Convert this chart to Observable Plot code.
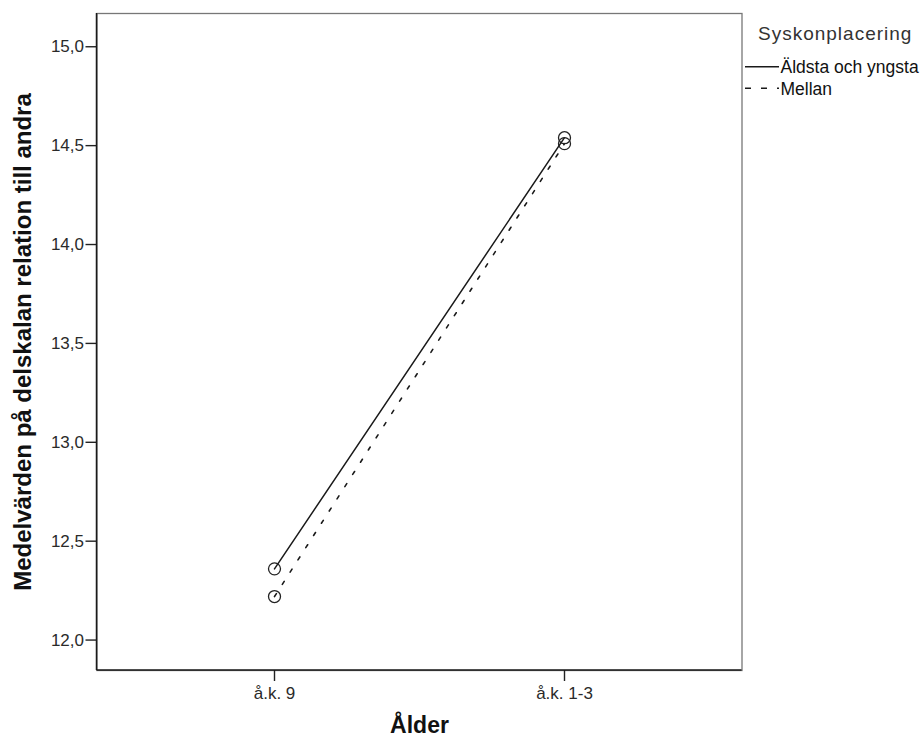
<!DOCTYPE html>
<html><head><meta charset="utf-8">
<script src="https://cdn.jsdelivr.net/npm/d3@7"></script>
<script src="https://cdn.jsdelivr.net/npm/@observablehq/plot@0.6"></script>
<style>body{margin:0;background:#fff} #chart{width:923px;height:739px}</style>
</head><body><div id="chart"></div>
<script>
const categories = ["å.k. 9", "å.k. 1-3"];
const seriesNames = ["Äldsta och yngsta", "Mellan"];
const aldstaValues = [12.35, 14.53];
const mellanValues = [12.21, 14.50];
const yTicks = [12.0, 12.5, 13.0, 13.5, 14.0, 14.5, 15.0];
const yLabel = "Medelvärden på delskalan relation till andra";
const xLabel = "Ålder";
const legendTitle = "Syskonplacering";

const aldstaRows = categories.map((c, i) => ({alder: c, serie: seriesNames[0], value: aldstaValues[i]}));
const mellanRows = categories.map((c, i) => ({alder: c, serie: seriesNames[1], value: mellanValues[i]}));
const allRows = aldstaRows.concat(mellanRows);

const fmt = d => d.toFixed(1).replace(".", ",");
const font = "'Liberation Sans', Arial, Helvetica, sans-serif";

const plot = Plot.plot({
  width: 923, height: 739,
  marginLeft: 96.5, marginRight: 181.5, marginTop: 13, marginBottom: 69,
  style: {fontFamily: font, fontSize: "17px", color: "#2a2a2a", background: "#fff", overflow: "visible"},
  x: {type: "point", domain: categories, padding: 0.61},
  y: {domain: [11.836, 15.158]},
  marks: [
    Plot.frame({stroke: "#777", strokeWidth: 1.3}),
    Plot.axisY({ticks: yTicks, tickFormat: fmt, tickSize: 11, tickPadding: 2, label: null, fontSize: 17, dy: 2, stroke: "#222", strokeWidth: 1.4}),
    Plot.axisX({tickSize: 11, tickPadding: 5, label: null, fontSize: 17, stroke: "#222", strokeWidth: 1.4}),
    Plot.line(aldstaRows, {x: "alder", y: "value", stroke: "#1a1a1a", strokeWidth: 1.5}),
    Plot.line(mellanRows, {x: "alder", y: "value", stroke: "#1a1a1a", strokeWidth: 1.6, strokeDasharray: "3.5,11"}),
    Plot.dot(allRows, {x: "alder", y: "value", r: 6, stroke: "#222", strokeWidth: 1.3, fill: "none"}),
    Plot.text([yLabel], {text: d => d, frameAnchor: "left", rotate: -90, dx: -74, textAnchor: "middle", lineAnchor: "middle", fontSize: 24, fontWeight: "bold", fill: "#111"}),
    Plot.text([xLabel], {text: d => d, frameAnchor: "bottom", dy: 55, textAnchor: "middle", lineAnchor: "middle", fontSize: 23, fontWeight: "bold", fill: "#111"})
  ]
});
document.getElementById("chart").appendChild(plot);

// black left and bottom axis lines (from scale ranges)
const svg = d3.select(plot);
const xr = plot.scale("x").range, yr = plot.scale("y").range;
const x0 = Math.min(...xr), x1 = Math.max(...xr), yb = Math.max(...yr), yt = Math.min(...yr);
svg.append("line").attr("x1", x0).attr("x2", x0).attr("y1", yt).attr("y2", yb).attr("stroke", "#1a1a1a").attr("stroke-width", 1.5);
svg.append("line").attr("x1", x0).attr("x2", x1).attr("y1", yb).attr("y2", yb).attr("stroke", "#1a1a1a").attr("stroke-width", 1.5);

// legend
const lg = svg.append("g").attr("font-family", font).attr("text-anchor", "start");
const lx = x1 + 3.5;
lg.append("text").attr("x", lx + 13).attr("y", 39.5).attr("font-size", 19).attr("letter-spacing", "1px").attr("fill", "#333").attr("text-anchor", "start").text(legendTitle);
const items = [{name: seriesNames[0], dash: null, y: 66.7}, {name: seriesNames[1], dash: "6,10", y: 88.3}];
items.forEach((it, i) => {
  const l = lg.append("line").attr("x1", lx).attr("x2", lx + 34).attr("y1", it.y).attr("y2", it.y).attr("stroke", "#1a1a1a").attr("stroke-width", 1.6);
  if (it.dash) l.attr("stroke-dasharray", it.dash);
  lg.append("text").attr("x", lx + 35.5).attr("y", it.y + 6.6).attr("font-size", 17.5).attr("fill", "#111").attr("text-anchor", "start").text(it.name);
});
</script>
</body></html>
